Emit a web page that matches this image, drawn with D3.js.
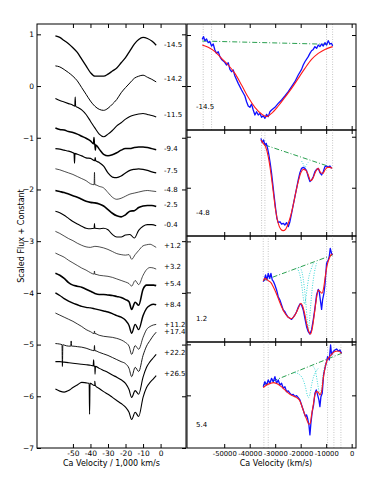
<!DOCTYPE html>
<html>
<head>
<meta charset="utf-8">
<script src="https://cdn.jsdelivr.net/npm/d3@7"></script>
<style>
  body { margin: 0; background: #fff; }
  svg { display: block; font-family: "DejaVu Sans", sans-serif; }
</style>
</head>
<body>
<div id="chart"></div>
<script>
// ---- left panel: Ca velocity grids (1,000 km/s) ----
const velA = [-60, -57.5, -55, -52.5, -50, -47.5, -45, -42.5, -40, -37.5, -35, -32.5,
  -30, -27.5, -25, -22.5, -20, -17.5, -15, -12.5, -10, -7.5, -5, -2.5];
const velB = [-60, -57.5, -55, -52.5, -50, -47.5, -45, -42.5, -40, -37.5, -35, -32.5,
  -30, -27.5, -25, -22.5, -20, -18, -16.5, -14.5, -12.5, -10, -8, -6, -4, -2.5];

const phases = ['-14.5', '-14.2', '-11.5', '-9.4', '-7.5', '-4.8', '-2.5', '-0.4',
  '+1.2', '+3.2', '+5.4', '+8.4', '+11.2', '+17.4', '+22.2', '+26.5'];
const phaseLabelY = [0.81, 0.15, -0.56, -1.21, -1.63, -2.0, -2.30, -2.68,
  -3.08, -3.50, -3.81, -4.22, -4.61, -4.75, -5.15, -5.56];

const fluxA = [
  [0.97, 0.94, 0.88, 0.82, 0.74, 0.65, 0.52, 0.39, 0.26, 0.19, 0.19, 0.19, 0.23, 0.29, 0.35, 0.45, 0.55, 0.68, 0.81, 0.90, 0.94, 0.92, 0.87, 0.79],
  [0.39, 0.37, 0.32, 0.26, 0.19, 0.10, -0.03, -0.16, -0.29, -0.39, -0.45, -0.47, -0.43, -0.35, -0.26, -0.13, -0.03, 0.06, 0.15, 0.19, 0.21, 0.17, 0.13, 0.08],
  [-0.24, -0.28, -0.31, -0.34, -0.37, -0.41, -0.46, -0.55, -0.68, -0.81, -0.93, -0.98, -0.93, -0.86, -0.77, -0.71, -0.64, -0.59, -0.56, -0.54, -0.53, -0.55, -0.57, -0.60],
  [-0.81, -0.84, -0.85, -0.88, -0.90, -0.93, -0.97, -1.01, -1.06, -1.13, -1.22, -1.32, -1.35, -1.33, -1.29, -1.24, -1.21, -1.21, -1.19, -1.18, -1.18, -1.19, -1.21, -1.23],
  [-1.21, -1.22, -1.24, -1.26, -1.29, -1.32, -1.35, -1.39, -1.40, -1.44, -1.48, -1.55, -1.68, -1.76, -1.77, -1.74, -1.68, -1.63, -1.61, -1.60, -1.61, -1.63, -1.66, -1.68],
  [-1.60, -1.62, -1.65, -1.68, -1.71, -1.75, -1.79, -1.83, -1.89, -1.91, -1.94, -1.97, -2.06, -2.15, -2.19, -2.17, -2.13, -2.09, -2.07, -2.05, -2.03, -2.02, -2.03, -2.04],
  [-2.02, -2.04, -2.06, -2.09, -2.12, -2.15, -2.19, -2.23, -2.25, -2.26, -2.28, -2.32, -2.39, -2.46, -2.51, -2.53, -2.49, -2.42, -2.41, -2.35, -2.32, -2.31, -2.31, -2.33],
  [-2.42, -2.45, -2.50, -2.56, -2.62, -2.67, -2.71, -2.75, -2.76, -2.75, -2.76, -2.75, -2.78, -2.87, -2.92, -2.92, -2.88, -2.87, -2.94, -2.79, -2.71, -2.68, -2.68, -2.70],
];
const fluxB = [
  [-2.81, -2.85, -2.90, -2.95, -2.99, -3.04, -3.08, -3.11, -3.12, -3.10, -3.11, -3.13, -3.16, -3.20, -3.24, -3.26, -3.27, -3.26, -3.35, -3.26, -3.18, -3.09, -3.07, -3.06, -3.09, -3.12],
  [-3.23, -3.27, -3.31, -3.37, -3.42, -3.47, -3.52, -3.56, -3.61, -3.64, -3.66, -3.67, -3.68, -3.70, -3.73, -3.76, -3.79, -3.82, -3.87, -3.76, -3.84, -3.66, -3.55, -3.51, -3.52, -3.54],
  [-3.62, -3.66, -3.72, -3.80, -3.85, -3.87, -3.89, -3.93, -3.97, -4.01, -4.03, -4.03, -4.04, -4.05, -4.07, -4.09, -4.13, -4.17, -4.32, -4.18, -4.24, -3.93, -3.85, -3.85, -3.85, -3.86],
  [-4.00, -4.05, -4.11, -4.16, -4.20, -4.23, -4.26, -4.28, -4.29, -4.31, -4.33, -4.35, -4.37, -4.40, -4.44, -4.47, -4.53, -4.63, -4.78, -4.61, -4.71, -4.44, -4.30, -4.24, -4.22, -4.23],
  [-4.39, -4.43, -4.47, -4.51, -4.55, -4.60, -4.65, -4.71, -4.75, -4.79, -4.82, -4.84, -4.85, -4.86, -4.88, -4.91, -4.96, -5.03, -5.19, -5.02, -5.09, -4.86, -4.71, -4.65, -4.62, -4.61],
  [-4.98, -4.99, -5.01, -5.03, -5.03, -5.04, -5.05, -5.07, -5.10, -5.12, -5.15, -5.18, -5.21, -5.25, -5.29, -5.33, -5.37, -5.46, -5.62, -5.44, -5.52, -5.21, -5.03, -4.92, -4.82, -4.76],
  [-5.33, -5.33, -5.34, -5.35, -5.36, -5.37, -5.38, -5.39, -5.40, -5.42, -5.46, -5.50, -5.54, -5.59, -5.63, -5.68, -5.75, -5.87, -6.02, -5.89, -5.96, -5.63, -5.44, -5.33, -5.25, -5.19],
  [-5.86, -5.90, -5.92, -5.89, -5.83, -5.78, -5.73, -5.74, -5.75, -5.79, -5.85, -5.91, -5.96, -6.02, -6.08, -6.14, -6.21, -6.31, -6.45, -6.31, -6.39, -6.02, -5.83, -5.73, -5.66, -5.60],
];
// narrow features: [spectrum, velocity, height]
const spikes = [
  [2, -48.7, 0.18], [3, -38, 0.12], [3, -37.2, -0.1], [4, -49.1, -0.19], [4, -37.3, 0.06],
  [5, -37.7, 0.24], [7, -37.7, 0.09], [9, -37.7, 0.06], [12, -37.7, 0.05],
  [13, -56, -0.42], [13, -51, 0.1], [13, -37.7, 0.1], [14, -38.2, 0.12], [14, -37.4, -0.15],
  [15, -40.5, -0.6], [15, -37.5, 0.08],
];
const xTicksL = [-50, -40, -30, -20, -10, 0];
const yTicksL = [1, 0, -1, -2, -3, -4, -5, -6, -7];

// ---- right panels: fits, velocity in km/s ----
const panelNames = ['-14.5', '-4.8', '1.2', '5.4'];
const p1BlueV = [-58630, -58100, -57580, -56930, -56270, -55620, -54970, -54310, -53660, -53000, -52350, -51690, -51040, -49990, -49080, -48430, -47770, -47120, -46460, -45810, -44500, -43190, -41890, -41230, -40580, -39920, -39270, -38610, -37960, -37310, -36650, -36000, -35340, -34690, -34040, -33380, -32730, -32080, -31420, -30110, -28810, -27500, -26190, -24880, -23570, -22270, -20960, -19650, -19000, -18340, -17030, -16380, -15730, -15070, -14420, -13760, -13110, -12460, -11800, -11150, -10490, -9840, -9190, -8530, -7880, -7480];
const p1BlueF = [0.957, 0.984, 0.944, 0.961, 0.925, 0.935, 0.892, 0.912, 0.853, 0.82, 0.837, 0.788, 0.761, 0.738, 0.706, 0.729, 0.663, 0.64, 0.657, 0.598, 0.526, 0.461, 0.402, 0.346, 0.304, 0.291, 0.323, 0.265, 0.216, 0.248, 0.216, 0.232, 0.193, 0.209, 0.183, 0.222, 0.2, 0.248, 0.265, 0.291, 0.33, 0.363, 0.402, 0.444, 0.493, 0.542, 0.608, 0.663, 0.706, 0.738, 0.788, 0.82, 0.846, 0.859, 0.886, 0.869, 0.902, 0.886, 0.912, 0.892, 0.925, 0.902, 0.944, 0.912, 0.918, 0.892];
const p1RedV = [-58630, -56270, -53660, -51040, -48430, -45810, -43190, -40580, -37960, -35340, -33380, -31420, -28810, -26190, -23570, -20960, -18340, -15730, -13110, -10490, -7480];
const p1RedF = [0.902, 0.879, 0.837, 0.771, 0.706, 0.624, 0.510, 0.389, 0.291, 0.225, 0.2, 0.232, 0.304, 0.389, 0.477, 0.575, 0.673, 0.761, 0.82, 0.859, 0.886];

const p2BlueV = [-35610, -35080, -34560, -34040, -33510, -32990, -32470, -31950, -31420, -30900, -30380, -29850, -29330, -28810, -28150, -27500, -26840, -26190, -25540, -24880, -24230, -23570, -22920, -22270, -21610, -20960, -20300, -19650, -19000, -18340, -17690, -17030, -16380, -15730, -15070, -14420, -13760, -13110, -12460, -11800, -11150, -10490, -9840, -9190, -8530, -7880];
const p2BlueF = [0.984, 0.942, 0.968, 0.919, 0.935, 0.886, 0.821, 0.739, 0.641, 0.527, 0.412, 0.298, 0.2, 0.158, 0.167, 0.144, 0.151, 0.135, 0.158, 0.118, 0.167, 0.249, 0.331, 0.412, 0.494, 0.576, 0.648, 0.69, 0.7, 0.69, 0.667, 0.608, 0.56, 0.576, 0.608, 0.657, 0.68, 0.69, 0.648, 0.625, 0.657, 0.707, 0.713, 0.7, 0.713, 0.69];
const p2RedV = [-35610, -34690, -33780, -32730, -31680, -30770, -29850, -28810, -27760, -26840, -25930, -24880, -23840, -22920, -22000, -20960, -19910, -19000, -18080, -17030, -16120, -15200, -14160, -13110, -12200, -11280, -10490, -9450, -8530, -7620];
const p2RedF = [0.968, 0.935, 0.903, 0.805, 0.641, 0.461, 0.282, 0.151, 0.092, 0.079, 0.092, 0.151, 0.233, 0.331, 0.445, 0.56, 0.648, 0.68, 0.674, 0.625, 0.569, 0.592, 0.657, 0.69, 0.648, 0.641, 0.674, 0.7, 0.7, 0.69];

const p3BlueV = [-34690, -34300, -33780, -33250, -32730, -32210, -31680, -31160, -30640, -30110, -29460, -28810, -28150, -27500, -26840, -26190, -25540, -24880, -24230, -23570, -22920, -22270, -21610, -20960, -20300, -19650, -19000, -18340, -17690, -17030, -16380, -15730, -15070, -14420, -13760, -13110, -12720, -12200, -11800, -11410, -10890, -10490, -9840, -9190, -8790, -8400, -7880, -7480];
const p3BlueF = [0.605, 0.622, 0.671, 0.622, 0.687, 0.638, 0.687, 0.622, 0.605, 0.573, 0.524, 0.458, 0.426, 0.377, 0.328, 0.311, 0.279, 0.256, 0.246, 0.236, 0.256, 0.279, 0.311, 0.354, 0.387, 0.377, 0.328, 0.246, 0.164, 0.115, 0.092, 0.132, 0.23, 0.344, 0.475, 0.53, 0.507, 0.409, 0.334, 0.426, 0.491, 0.573, 0.785, 0.818, 0.851, 0.932, 0.883, 0.867];
const p3RedV = [-34690, -34040, -33380, -32730, -31680, -30770, -29850, -28810, -27500, -26190, -24880, -23840, -22920, -22000, -20960, -19910, -19260, -18340, -17560, -16770, -16120, -15460, -14680, -13890, -13110, -12330, -11670, -11020, -10360, -9580, -8790, -8140, -7480];
const p3RedF = [0.615, 0.638, 0.628, 0.615, 0.596, 0.556, 0.507, 0.442, 0.36, 0.295, 0.256, 0.243, 0.256, 0.288, 0.344, 0.393, 0.367, 0.279, 0.181, 0.115, 0.092, 0.148, 0.279, 0.426, 0.524, 0.507, 0.491, 0.54, 0.654, 0.769, 0.834, 0.867, 0.877];

const p4BlueV = [-34690, -34040, -33380, -32730, -32080, -31420, -30770, -30110, -29460, -28810, -28150, -27500, -26840, -26190, -25540, -24880, -24230, -23570, -22920, -22270, -21610, -20960, -20300, -19650, -19000, -18600, -18080, -17690, -17290, -16770, -16380, -15990, -15460, -14940, -14420, -13890, -13370, -12850, -12460, -12060, -11540, -11020, -10490, -9840, -9450, -8790, -8270, -7880, -7220, -6570, -5920, -5260, -4610, -3960];
const p4BlueF = [0.585, 0.634, 0.602, 0.651, 0.618, 0.667, 0.634, 0.683, 0.618, 0.651, 0.602, 0.618, 0.569, 0.585, 0.536, 0.543, 0.52, 0.504, 0.51, 0.487, 0.497, 0.478, 0.455, 0.406, 0.357, 0.324, 0.291, 0.308, 0.275, 0.21, 0.112, 0.226, 0.34, 0.406, 0.52, 0.553, 0.504, 0.455, 0.389, 0.487, 0.52, 0.7, 0.765, 0.831, 0.88, 0.847, 0.994, 0.896, 0.929, 0.945, 0.955, 0.935, 0.945, 0.912];
const p4RedV = [-34690, -33380, -32080, -30770, -29460, -28150, -26840, -25540, -24230, -22920, -21610, -20300, -19260, -18340, -17560, -16770, -16250, -15730, -15070, -14420, -13760, -13110, -12460, -11800, -11150, -10490, -9840, -8920, -7880, -6570, -5260, -3960];
const p4RedF = [0.576, 0.602, 0.615, 0.625, 0.615, 0.595, 0.569, 0.536, 0.51, 0.494, 0.478, 0.445, 0.373, 0.308, 0.259, 0.216, 0.226, 0.308, 0.406, 0.504, 0.536, 0.53, 0.504, 0.536, 0.667, 0.765, 0.831, 0.87, 0.902, 0.929, 0.935, 0.912];

// pseudo-continuum end points [v0, f0, v1, f1]
const continua = [
  [-58630, 0.941, -7480, 0.908],
  [-34040, 0.919, -7880, 0.70],
  [-34690, 0.615, -7480, 0.867],
  [-34690, 0.602, -3960, 0.912],
];
// single components (panel index, velocities, flux)
const compPanel = [1, 2, 2, 3, 3];
const compV = [
  [-19650, -19000, -18340, -17690, -17030],
  [-21610, -20700, -19910, -19260, -18860, -18470, -18080, -17560, -16900, -15990, -15070],
  [-20300, -19390, -18600, -17950, -17430, -17030, -16640, -16120, -15460, -14680, -13760],
  [-22270, -20300, -19000, -18080, -17430, -16900, -16380, -15730, -14940, -14020, -13110],
  [-15070, -14160, -13370, -12850, -12330, -11800, -11280, -10490, -9840],
];
const compF = [
  [0.762, 0.733, 0.70, 0.726, 0.749],
  [0.736, 0.703, 0.622, 0.507, 0.426, 0.387, 0.426, 0.524, 0.638, 0.72, 0.785],
  [0.746, 0.687, 0.556, 0.393, 0.23, 0.132, 0.197, 0.36, 0.54, 0.687, 0.785],
  [0.723, 0.7, 0.651, 0.576, 0.504, 0.478, 0.51, 0.602, 0.683, 0.732, 0.765],
  [0.782, 0.732, 0.618, 0.543, 0.51, 0.569, 0.683, 0.798, 0.831],
];
// fit window edges
const windows = [
  [-58240, -54970, -9840, -7480],
  [-35340, -34040, -9840, -7480],
  [-34690, -32730, -9840, -7480],
  [-34430, -32730, -9450, -6970, -4220],
];
const panelTopFlux = [1.108, 1.066, 1.053, 1.023];
const xTicksR = [-50000, -40000, -30000, -20000, -10000, 0];
const yTicksR = [0.5, 1.0];

// ---- layout ----
const W = 374, H = 498;
const L = {x0: 37, x1: 186, y0: 24, y1: 448};
const R = {x0: 187, x1: 356, y0: 24, ph: 106};
const lineW = [1.3, 1.0, 1.1, 1.5, 1.2, 0.7, 1.6, 1.1, 0.7, 0.7, 1.6, 1.4, 0.8, 0.9, 1.1, 1.1];

const svg = d3.select('#chart').append('svg')
    .attr('width', W)
    .attr('height', H);

const minus = (d) => (d < 0 ? '\u2212' + (-d) : String(d));
// d3.axis writes its own font attributes on the group, so set ours afterwards
const tidy = (size) => (g) => {
  g.select('.domain').remove();
  g.attr('font-family', '"DejaVu Sans", sans-serif').attr('font-size', size);
};

// left panel
const xL = d3.scaleLinear().domain([-70.5, 14.5]).range([L.x0, L.x1]);
const yL = d3.scaleLinear().domain([-7, 1.2]).range([L.y1, L.y0]);

const withSpikes = (vs, fs, idx) => {
  const pts = vs.map((v, i) => [v, fs[i]]);
  spikes.filter((s) => s[0] === idx).forEach(([, v, amp]) => {
    const j = d3.bisector((d) => d[0]).left(pts, v);
    const a = pts[j - 1];
    const b = pts[j];
    const base = a[1] + (v - a[0]) / (b[0] - a[0]) * (b[1] - a[1]);
    pts.push([v - 0.25, base], [v, base + amp], [v + 0.25, base]);
    pts.sort((p, q) => p[0] - q[0]);
  });
  return pts;
};

const spectra = fluxA.map((f, i) => withSpikes(velA, f, i))
    .concat(fluxB.map((f, i) => withSpikes(velB, f, i + fluxA.length)));

const lineL = d3.line()
    .x((d) => xL(d[0]))
    .y((d) => yL(d[1]))
    .curve(d3.curveMonotoneX);

svg.append('g')
    .selectAll('path')
    .data(spectra)
    .join('path')
    .attr('d', lineL)
    .attr('fill', 'none')
    .attr('stroke', '#000')
    .attr('stroke-linejoin', 'round')
    .attr('stroke-width', (d, i) => lineW[i]);

svg.append('g')
    .selectAll('text')
    .data(phases)
    .join('text')
    .attr('x', xL(2))
    .attr('y', (d, i) => yL(phaseLabelY[i]))
    .attr('dy', '0.35em')
    .attr('font-size', 7)
    .text((d) => d);

svg.append('g')
    .attr('transform', `translate(0,${L.y1})`)
    .call(d3.axisBottom(xL).tickValues(xTicksL).tickSizeInner(-4).tickSizeOuter(0)
        .tickPadding(3).tickFormat((d) => `${d}`))
    .call(tidy(7.5));
svg.append('g')
    .attr('transform', `translate(0,${L.y0})`)
    .call(d3.axisTop(xL).tickValues(xTicksL).tickSizeInner(-4).tickSizeOuter(0).tickFormat(''))
    .call(tidy(7.5));
svg.append('g')
    .attr('transform', `translate(${L.x0},0)`)
    .call(d3.axisLeft(yL).tickValues(yTicksL).tickSizeInner(-4).tickSizeOuter(0)
        .tickPadding(3).tickFormat(minus))
    .call(tidy(7.5));
svg.append('g')
    .attr('transform', `translate(${L.x1},0)`)
    .call(d3.axisRight(yL).tickValues(yTicksL).tickSizeInner(-4).tickSizeOuter(0).tickFormat(''))
    .call(tidy(7.5));
svg.append('rect')
    .attr('x', L.x0).attr('y', L.y0)
    .attr('width', L.x1 - L.x0).attr('height', L.y1 - L.y0)
    .attr('fill', 'none').attr('stroke', '#000').attr('stroke-width', 1);

svg.append('text')
    .attr('x', (L.x0 + L.x1) / 2).attr('y', 466)
    .attr('text-anchor', 'middle').attr('font-size', 8)
    .text('Ca Velocity / 1,000 km/s');
svg.append('text')
    .attr('transform', `translate(23.5,${(L.y0 + L.y1) / 2}) rotate(-90)`)
    .attr('text-anchor', 'middle').attr('font-size', 8)
    .text('Scaled Flux + Constant');

// right panels
const xR = d3.scaleLinear().domain([-64600, 1700]).range([R.x0, R.x1]);
const panels = [
  {blue: [p1BlueV, p1BlueF], red: [p1RedV, p1RedF]},
  {blue: [p2BlueV, p2BlueF], red: [p2RedV, p2RedF]},
  {blue: [p3BlueV, p3BlueF], red: [p3RedV, p3RedF]},
  {blue: [p4BlueV, p4BlueF], red: [p4RedV, p4RedF]},
];
const zip = (vs, fs) => vs.slice(0, fs.length).map((v, i) => [v, fs[i]]);

panels.forEach((p, i) => {
  const top = R.y0 + i * R.ph;
  const yR = d3.scaleLinear()
      .domain([panelTopFlux[i] - R.ph / 102, panelTopFlux[i]])
      .range([top + R.ph, top]);
  const g = svg.append('g');
  g.append('clipPath').attr('id', `clip${i}`)
      .append('rect')
      .attr('x', R.x0).attr('y', top)
      .attr('width', R.x1 - R.x0).attr('height', R.ph);
  const body = g.append('g').attr('clip-path', `url(#clip${i})`);

  body.selectAll('line.win')
      .data(windows[i])
      .join('line')
      .attr('class', 'win')
      .attr('x1', (d) => xR(d)).attr('x2', (d) => xR(d))
      .attr('y1', top).attr('y2', top + R.ph)
      .attr('stroke', '#b8b8b8').attr('stroke-width', 0.8)
      .attr('stroke-dasharray', '1,1.5');

  const line = d3.line().x((d) => xR(d[0])).y((d) => yR(d[1]));
  const c = continua[i];
  body.append('path')
      .attr('d', line([[c[0], c[1]], [c[2], c[3]]]))
      .attr('fill', 'none').attr('stroke', '#2aa050').attr('stroke-width', 1)
      .attr('stroke-dasharray', '5,2,1,2');

  compPanel.forEach((pi, k) => {
    if (pi !== i) return;
    body.append('path')
        .attr('d', line.curve(d3.curveMonotoneX)(zip(compV[k], compF[k])))
        .attr('fill', 'none').attr('stroke', '#3fd8d8').attr('stroke-width', 1)
        .attr('stroke-dasharray', '1,1.5');
  });

  body.append('path')
      .attr('d', line.curve(d3.curveLinear)(zip(p.blue[0], p.blue[1])))
      .attr('fill', 'none').attr('stroke', '#1010ff').attr('stroke-width', 1.3)
      .attr('stroke-linejoin', 'round');
  body.append('path')
      .attr('d', line.curve(d3.curveMonotoneX)(zip(p.red[0], p.red[1])))
      .attr('fill', 'none').attr('stroke', '#ff1a1a').attr('stroke-width', 1.1);

  g.append('text')
      .attr('x', 196).attr('y', top + 83)
      .attr('dy', '0.35em').attr('font-size', 7)
      .text(panelNames[i]);

  g.append('g')
      .attr('transform', `translate(0,${top})`)
      .call(d3.axisTop(xR).tickValues(xTicksR).tickSizeInner(-4).tickSizeOuter(0).tickFormat(''))
      .call(tidy(7));
  g.append('g')
      .attr('transform', `translate(0,${top + R.ph})`)
      .call(d3.axisBottom(xR).tickValues(xTicksR).tickSizeInner(-4).tickSizeOuter(0)
          .tickPadding(3).tickFormat((d) => (i === 3 ? `${d}` : '')))
      .call(tidy(6.8));
  g.append('g')
      .attr('transform', `translate(${R.x0},0)`)
      .call(d3.axisLeft(yR).tickValues(yTicksR).tickSizeInner(-4).tickSizeOuter(0).tickFormat(''))
      .call(tidy(7));
  g.append('g')
      .attr('transform', `translate(${R.x1},0)`)
      .call(d3.axisRight(yR).tickValues(yTicksR).tickSizeInner(-4).tickSizeOuter(0).tickFormat(''))
      .call(tidy(7));
  g.append('rect')
      .attr('x', R.x0).attr('y', top)
      .attr('width', R.x1 - R.x0).attr('height', R.ph)
      .attr('fill', 'none').attr('stroke', '#000').attr('stroke-width', 1);
});

svg.append('text')
    .attr('x', 276).attr('y', 466)
    .attr('text-anchor', 'middle').attr('font-size', 8)
    .text('Ca Velocity (km/s)');
</script>
</body>
</html>
